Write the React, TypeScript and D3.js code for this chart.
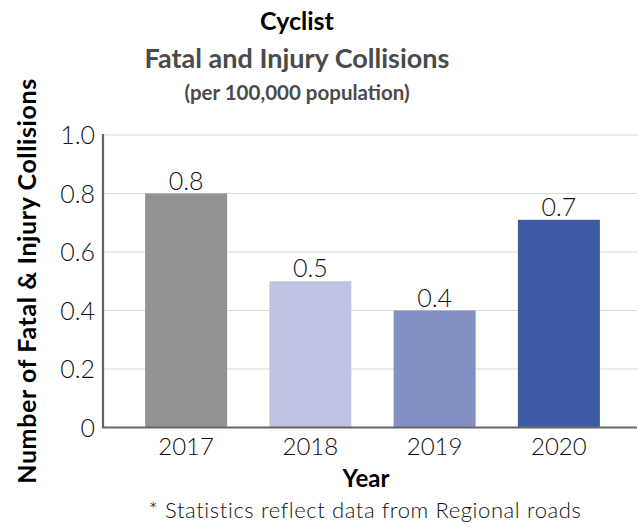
import { useEffect, useRef } from "react";
import * as d3 from "d3";

const years = ["2017", "2018", "2019", "2020"];
const values = [0.8, 0.5, 0.4, 0.71];
const valueLabels = ["0.8", "0.5", "0.4", "0.7"];
const barColors = ["#939393", "#c0c4e2", "#8490c4", "#3d5ba4"];
const yTicks = [0, 0.2, 0.4, 0.6, 0.8, 1.0];

const W = 639;
const H = 529;
const FONT = "Lato, 'Open Sans', sans-serif";

export default function App() {
  const ref = useRef<SVGSVGElement | null>(null);

  useEffect(() => {
    if (!ref.current) return;
    const svg = d3.select(ref.current);
    svg.selectAll("*").remove();

    const left = 103;
    const right = 637;
    const y = d3.scaleLinear().domain([0, 1]).range([427.5, 135]);
    const x = d3.scaleBand<string>().domain(years).range([124, 621]).paddingInner(0.34).paddingOuter(0.17);

    // gridlines
    svg
      .append("g")
      .selectAll("line")
      .data(yTicks.filter((t) => t > 0))
      .enter()
      .append("line")
      .attr("x1", left)
      .attr("x2", right)
      .attr("y1", (d) => y(d))
      .attr("y2", (d) => y(d))
      .attr("stroke", "#d9d9d9")
      .attr("stroke-width", 1.2);

    // bars
    svg
      .append("g")
      .selectAll("rect")
      .data(values)
      .enter()
      .append("rect")
      .attr("x", (_, i) => x(years[i]) as number)
      .attr("width", x.bandwidth())
      .attr("y", (d) => y(d))
      .attr("height", (d) => y(0) - y(d))
      .attr("fill", (_, i) => barColors[i]);

    // value labels
    svg
      .append("g")
      .selectAll("text")
      .data(values)
      .enter()
      .append("text")
      .attr("x", (_, i) => (x(years[i]) as number) + x.bandwidth() / 2)
      .attr("y", (d) => y(d) - 4)
      .attr("text-anchor", "middle")
      .attr("font-family", FONT)
      .attr("font-weight", 300)
      .attr("font-size", 25)
      .attr("fill", "#111")
      .text((_, i) => valueLabels[i]);

    // axes lines
    svg
      .append("path")
      .attr("d", `M${left},${y(1) - 1}V${y(0)}H${right}`)
      .attr("fill", "none")
      .attr("stroke", "#666")
      .attr("stroke-width", 2.2);

    // y tick labels
    svg
      .append("g")
      .selectAll("text")
      .data(yTicks)
      .enter()
      .append("text")
      .attr("x", 95)
      .attr("y", (d) => y(d) + 9)
      .attr("text-anchor", "end")
      .attr("font-family", FONT)
      .attr("font-weight", 300)
      .attr("font-size", 25)
      .attr("fill", "#111")
      .text((d) => (d === 0 ? "0" : d.toFixed(1)));

    // x tick labels
    svg
      .append("g")
      .selectAll("text")
      .data(years)
      .enter()
      .append("text")
      .attr("x", (d) => (x(d) as number) + x.bandwidth() / 2)
      .attr("y", 455)
      .attr("text-anchor", "middle")
      .attr("font-family", FONT)
      .attr("font-weight", 300)
      .attr("font-size", 24)
      .attr("fill", "#111")
      .text((d) => d);

    // titles
    const title = svg.append("g").attr("font-family", FONT).attr("font-weight", "bold").attr("text-anchor", "middle");
    title.append("text").attr("x", 297).attr("y", 30).attr("font-size", 25).attr("fill", "#000").text("Cyclist");
    title.append("text").attr("x", 297).attr("y", 68).attr("font-size", 27).attr("fill", "#4a4a4a").text("Fatal and Injury Collisions");
    title.append("text").attr("x", 297).attr("y", 100).attr("font-size", 20.5).attr("fill", "#4a4a4a").text("(per 100,000 population)");

    // axis titles
    svg
      .append("text")
      .attr("transform", "translate(36,281) rotate(-90)")
      .attr("text-anchor", "middle")
      .attr("font-family", FONT)
      .attr("font-weight", "bold")
      .attr("font-size", 25)
      .attr("letter-spacing", 0.6)
      .attr("fill", "#000")
      .text("Number of Fatal & Injury Collisions");

    svg
      .append("text")
      .attr("x", 366)
      .attr("y", 487)
      .attr("text-anchor", "middle")
      .attr("font-family", FONT)
      .attr("font-weight", "bold")
      .attr("font-size", 24)
      .attr("fill", "#000")
      .text("Year");

    svg
      .append("text")
      .attr("x", 365)
      .attr("y", 518)
      .attr("text-anchor", "middle")
      .attr("font-family", FONT)
      .attr("font-weight", 300)
      .attr("font-size", 22)
      .attr("letter-spacing", 0.6)
      .attr("fill", "#111")
      .text("* Statistics reflect data from Regional roads");
  }, []);

  return (
    <svg
      ref={ref}
      width={W}
      height={H}
      style={{ position: "absolute", left: 0, top: 0, background: "#fff" }}
    />
  );
}
